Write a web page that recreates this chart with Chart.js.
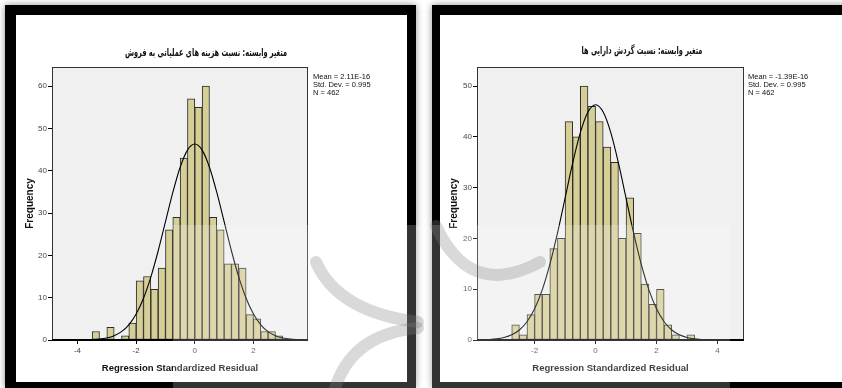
<!DOCTYPE html>
<html lang="fa">
<head>
<meta charset="UTF-8" />
<title>Regression Standardized Residual</title>
<script src="https://cdn.jsdelivr.net/npm/chart.js"></script>
<style>
  body { margin: 0; width: 842px; height: 388px; overflow: hidden; background: #fff; position: relative; font-family: "Liberation Sans", Arial, sans-serif; }
  .frame { position: absolute; top: 5px; border-style: solid; border-color: #000; background: #fff; box-shadow: 0 0 7px rgba(0, 0, 0, 0.45); }
  #frameA { left: 5px; width: 391px; height: 367px; border-width: 10px 9px 6px 11px; }
  #frameB { left: 432px; width: 420px; height: 367px; border-width: 10px 0 6px 8px; }
  .frame canvas { position: absolute; left: 0; top: 0; }
  .title { position: absolute; font-family: "DejaVu Sans", sans-serif; font-weight: bold; font-size: 11px; direction: rtl; white-space: nowrap; transform: translate(-50%, -50%) scaleX(0.6); color: #111; }
  .stats { position: absolute; font-size: 7.5px; line-height: 8px; color: #111; white-space: nowrap; }
  #wash { position: absolute; left: 173px; top: 225px; width: 557px; height: 163px; background: rgba(255, 255, 255, 0.2); pointer-events: none; }
  #marks { position: absolute; left: 0; top: 0; pointer-events: none; }
</style>
</head>
<body>
  <div class="frame" id="frameA">
    <canvas id="chartA" width="391" height="367"></canvas>
    <div class="title" style="left:190px; top:37px;">متغیر وابسته: نسبت هزینه های عملیاتی به فروش</div>
    <div class="stats" style="left:297px; top:58px;">Mean = 2.11E-16<br>Std. Dev. = 0.995<br>N = 462</div>
  </div>
  <div class="frame" id="frameB">
    <canvas id="chartB" width="402" height="367"></canvas>
    <div class="title" style="left:202px; top:35px;">متغیر وابسته: نسبت گردش دارایی ها</div>
    <div class="stats" style="left:308px; top:58px;">Mean = -1.39E-16<br>Std. Dev. = 0.995<br>N = 462</div>
  </div>
  <!-- faint watermark seen in the scan -->
  <div id="wash"></div>
  <svg id="marks" width="842" height="388">
    <g fill="none" stroke="rgba(130,130,130,0.3)" stroke-width="12" stroke-linecap="round">
      <path d="M 316 262 Q 338 312 418 322" />
      <path d="M 334 392 Q 350 334 418 328" />
      <path d="M 436 226 Q 470 300 540 262" />
    </g>
  </svg>

<script>
// left histogram: bin mid-points (width 0.25) and counts
const binsA = [-3.375, -3.125, -2.875, -2.625, -2.375, -2.125, -1.875, -1.625, -1.375, -1.125,
  -0.875, -0.625, -0.375, -0.125, 0.125, 0.375, 0.625, 0.875, 1.125, 1.375,
  1.625, 1.875, 2.125, 2.375, 2.625, 2.875];
const countsA = [2, 0, 3, 0, 1, 4, 14, 15, 12, 17,
  26, 29, 43, 57, 55, 60, 29, 26, 18, 18,
  17, 6, 5, 2, 2, 1];

// right histogram
const binsB = [-2.625, -2.375, -2.125, -1.875, -1.625, -1.375, -1.125, -0.875, -0.625, -0.375,
  -0.125, 0.125, 0.375, 0.625, 0.875, 1.125, 1.375, 1.625, 1.875, 2.125,
  2.375, 2.625, 2.875, 3.125];
const countsB = [3, 1, 5, 9, 9, 18, 20, 43, 40, 50,
  46, 43, 38, 35, 20, 28, 21, 11, 7, 10,
  3, 1, 0, 1];

// normal curve (same shape in each)
const curveX = [-5, -4.75, -4.5, -4.25, -4, -3.75, -3.5, -3.25, -3, -2.75,
  -2.5, -2.25, -2, -1.75, -1.5, -1.25, -1, -0.75, -0.5, -0.25,
  0, 0.25, 0.5, 0.75, 1, 1.25, 1.5, 1.75, 2, 2.25,
  2.5, 2.75, 3, 3.25, 3.5, 3.75, 4, 4.25, 4.5, 4.75, 5];
const curveY = [0, 0, 0, 0.01, 0.01, 0.04, 0.1, 0.22, 0.49, 1.02,
  1.97, 3.59, 6.14, 9.86, 14.87, 21.03, 27.95, 34.86, 40.82, 44.87,
  46.31, 44.87, 40.82, 34.86, 27.95, 21.03, 14.87, 9.86, 6.14, 3.59,
  1.97, 1.02, 0.49, 0.22, 0.1, 0.04, 0.01, 0.01, 0, 0, 0];

const xTicksA = [-4, -2, 0, 2];
const xTicksB = [-2, 0, 2, 4];
const yTicksA = [0, 10, 20, 30, 40, 50, 60];
const yTicksB = [0, 10, 20, 30, 40, 50];

Chart.defaults.font.family = '"Liberation Sans", Arial, sans-serif';

// grey plot background and the box around it
const plotBox = {
  id: 'plotBox',
  beforeDraw(chart) {
    const { ctx, chartArea: a } = chart;
    ctx.save();
    ctx.fillStyle = '#f0f0f0';
    ctx.fillRect(a.left, a.top, a.width, a.height);
    ctx.restore();
  },
  afterDraw(chart) {
    const { ctx, chartArea: a } = chart;
    ctx.save();
    ctx.strokeStyle = '#333';
    ctx.lineWidth = 1;
    ctx.strokeRect(a.left + 0.5, a.top + 0.5, a.width - 1, a.height - 1);
    ctx.strokeStyle = '#000';
    ctx.lineWidth = 2;
    ctx.beginPath();
    ctx.moveTo(a.left, a.bottom);
    ctx.lineTo(a.right, a.bottom);
    ctx.stroke();
    ctx.restore();
  }
};

function drawHist(id, bins, counts, xMin, xMax, xTicks, yMax, yTicks, yWidth, padRight) {
  const tickGrid = { drawOnChartArea: false, drawTicks: true, tickLength: 4, color: '#000', offset: false };
  new Chart(document.getElementById(id), {
    data: {
      datasets: [
        {
          type: 'line',
          data: curveX.map((x, i) => ({ x: x, y: curveY[i] })),
          borderColor: '#000',
          borderWidth: 1.1,
          pointRadius: 0,
          cubicInterpolationMode: 'monotone',
          order: 0
        },
        {
          type: 'bar',
          data: bins.map((x, i) => ({ x: x, y: counts[i] })),
          backgroundColor: '#d5ce96',
          borderColor: '#2b2b2b',
          borderWidth: 1,
          borderSkipped: false,
          barPercentage: 1,
          categoryPercentage: 1,
          order: 1
        }
      ]
    },
    options: {
      responsive: false,
      animation: false,
      layout: { padding: { top: 52, right: padRight, left: 0, bottom: 0 } },
      plugins: { legend: { display: false }, tooltip: { enabled: false } },
      scales: {
        x: {
          type: 'linear',
          offset: false,
          min: xMin,
          max: xMax,
          afterBuildTicks: (s) => { s.ticks = xTicks.map((v) => ({ value: v })); },
          afterFit: (s) => { s.height = 42; },
          grid: tickGrid,
          border: { display: false },
          ticks: { font: { size: 8 }, color: '#444', padding: 2, maxRotation: 0 },
          title: {
            display: true,
            text: 'Regression Standardized Residual',
            font: { size: 9.5, weight: 'bold' },
            color: '#111',
            padding: { top: 0, bottom: 8 }
          }
        },
        y: {
          min: 0,
          max: yMax,
          afterBuildTicks: (s) => { s.ticks = yTicks.map((v) => ({ value: v })); },
          afterFit: (s) => { s.width = yWidth; },
          grid: tickGrid,
          border: { display: false },
          ticks: { font: { size: 8 }, color: '#444', padding: 1 },
          title: {
            display: true,
            text: 'Frequency',
            font: { size: 10, weight: 'bold' },
            color: '#111',
            padding: { top: 8, bottom: 0 }
          }
        }
      }
    },
    plugins: [plotBox]
  });
}

drawHist('chartA', binsA, countsA, -4.87, 3.86, xTicksA, 64.5, yTicksA, 36, 99);
drawHist('chartB', binsB, countsB, -3.89, 4.87, xTicksB, 53.75, yTicksB, 37, 98);
</script>
</body>
</html>
